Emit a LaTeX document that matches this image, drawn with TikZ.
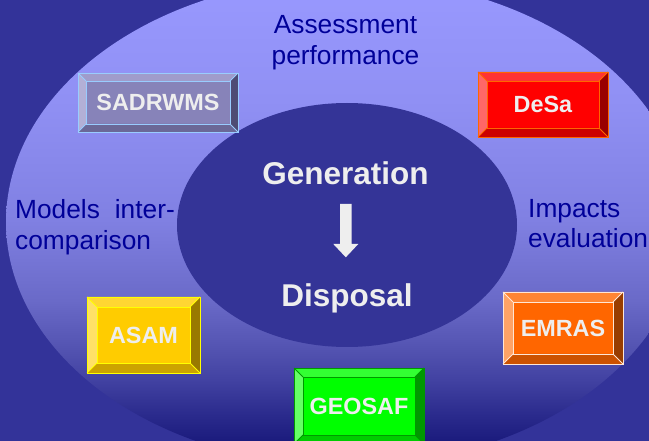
\documentclass[tikz,border=0pt]{standalone}
\usepackage{fontspec}
\setmainfont{Liberation Sans}
\definecolor{bg}{HTML}{333399}
\definecolor{inner}{HTML}{343497}
\definecolor{navytext}{HTML}{000099}
\definecolor{lbl}{HTML}{EEEEEE}
\definecolor{s0}{HTML}{141475}
\definecolor{s1}{HTML}{1A1A7C}
\definecolor{s2}{HTML}{2C2C8E}
\definecolor{s3}{HTML}{4141A1}
\definecolor{s4}{HTML}{5252B0}
\definecolor{s5}{HTML}{6A6AC8}
\definecolor{s6}{HTML}{8080E2}
\definecolor{s7}{HTML}{9090F4}
\definecolor{s8}{HTML}{9999FF}
\pgfdeclareverticalshading{ringshade}{100bp}{color(0bp)=(s0); color(25bp)=(s0); color(27.4bp)=(s1); color(30.5bp)=(s2); color(33.7bp)=(s3); color(36.8bp)=(s4); color(42bp)=(s5); color(50.2bp)=(s6); color(62.5bp)=(s7); color(75bp)=(s8); color(100bp)=(s8)}
% box colours: F face, T top, L left, R right, B bottom, K outline
\definecolor{sadF}{HTML}{8783B9}\definecolor{sadT}{HTML}{A09CCB}\definecolor{sadL}{HTML}{B3B0D6}
\definecolor{sadR}{HTML}{4E4C74}\definecolor{sadB}{HTML}{6B6897}\definecolor{sadK}{HTML}{99CCFF}
\definecolor{desF}{HTML}{FF0000}\definecolor{desT}{HTML}{FF3333}\definecolor{desL}{HTML}{FF6666}
\definecolor{desR}{HTML}{990000}\definecolor{desB}{HTML}{CC0000}\definecolor{desK}{HTML}{FF6600}
\definecolor{geoF}{HTML}{00FF00}\definecolor{geoT}{HTML}{33FF33}\definecolor{geoL}{HTML}{66FF66}
\definecolor{geoR}{HTML}{009900}\definecolor{geoB}{HTML}{00CC00}\definecolor{geoK}{HTML}{009900}
\definecolor{asaF}{HTML}{FFCC00}\definecolor{asaT}{HTML}{FFD633}\definecolor{asaL}{HTML}{FFE066}
\definecolor{asaR}{HTML}{997A00}\definecolor{asaB}{HTML}{CCA300}\definecolor{asaK}{HTML}{FFFF00}
\definecolor{emrF}{HTML}{FF6600}\definecolor{emrT}{HTML}{FF8533}\definecolor{emrL}{HTML}{FFA366}
\definecolor{emrR}{HTML}{993D00}\definecolor{emrB}{HTML}{CC5200}\definecolor{emrK}{HTML}{FFE6D5}
\tikzset{
  boxlabel/.style={inner sep=0pt, text=lbl, font=\fontsize{23.4pt}{28pt}\selectfont\bfseries},
  bigword/.style={inner sep=0pt, anchor=base, text=lbl, font=\fontsize{31.5pt}{36pt}\selectfont\bfseries},
  bluetext/.style={inner sep=0pt, text=navytext, font=\fontsize{26.3pt}{31pt}\selectfont},
  bevelline/.style={line width=0.8pt, line join=miter}
}
% #1 colour prefix, #2 x1, #3 y1, #4 x2, #5 y2, #6 bevel, #7 node name, #8 text
\newcommand\bevelbox[8]{%
  \fill[#1F] (#2+#6,#3+#6) rectangle (#4-#6,#5-#6);
  \fill[#1T] (#2,#3) -- (#4,#3) -- (#4-#6,#3+#6) -- (#2+#6,#3+#6) -- cycle;
  \fill[#1L] (#2,#3) -- (#2+#6,#3+#6) -- (#2+#6,#5-#6) -- (#2,#5) -- cycle;
  \fill[#1R] (#4,#3) -- (#4,#5) -- (#4-#6,#5-#6) -- (#4-#6,#3+#6) -- cycle;
  \fill[#1B] (#2,#5) -- (#4,#5) -- (#4-#6,#5-#6) -- (#2+#6,#5-#6) -- cycle;
  \draw[bevelline, #1K] (#2,#3) rectangle (#4,#5);
  \draw[bevelline, #1K] (#2+#6,#3+#6) rectangle (#4-#6,#5-#6);
  \draw[bevelline, #1K] (#2,#3) -- (#2+#6,#3+#6) (#4,#3) -- (#4-#6,#3+#6)
        (#2,#5) -- (#2+#6,#5-#6) (#4,#5) -- (#4-#6,#5-#6);
  \node[boxlabel] (#7) at ({(#2+#4)/2},{(#3+#5)/2}) {#8};
}
\begin{document}
\begin{tikzpicture}[x=1pt,y=-1pt]
\useasboundingbox (0,0) rectangle (649,441);
\clip (0,0) rectangle (649,441);
\fill[bg] (0,0) rectangle (649,441);
% outer ring and inner disc
\shade[shading=ringshade] (346,222) ellipse [x radius=340pt, y radius=244pt];
\fill[inner] (347,225) ellipse [x radius=170pt, y radius=122pt];
% boxes
\bevelbox{sad}{78}{73}{238}{132}{8}{sadrwms}{SADRWMS}
\bevelbox{des}{478}{72}{608}{137}{9}{desa}{DeSa}
\bevelbox{asa}{87}{297}{200}{373}{10}{asam}{ASAM}
\bevelbox{emr}{503}{292}{623}{364}{10}{emras}{EMRAS}
\bevelbox{geo}{294}{368}{424}{444}{9}{geosaf}{GEOSAF}
% centre words and arrow
\node[bigword] (gen) at (345.5,185) {Generation};
\node[bigword] (disp) at (347,306.5) {Disposal};
\coordinate (arrtop) at (345.8,204);
\coordinate (arrtip) at (345.8,257.3);
\fill[lbl] ([xshift=-5.8pt]arrtop) -- ([xshift=5.8pt]arrtop)
  -- ([xshift=5.8pt,yshift=13.3pt]arrtip) -- ([xshift=12.5pt,yshift=13.3pt]arrtip)
  -- (arrtip) -- ([xshift=-12.5pt,yshift=13.3pt]arrtip)
  -- ([xshift=-5.8pt,yshift=13.3pt]arrtip) -- cycle;
% blue captions
\node[bluetext, anchor=base] (assess) at (345.5,34) {Assessment};
\node[bluetext, anchor=base] (perf) at (345.5,65) {performance};
\node[bluetext, anchor=base west] (models) at (15,219) {Models};
\node[bluetext, anchor=base east] (inter) at (175,219) {inter-};
\node[bluetext, anchor=base west] (compar) at (15,250) {comparison};
\node[bluetext, anchor=base west] (impacts) at (528,218) {Impacts};
\node[bluetext, anchor=base west] (evalu) at (528,248) {evaluation};
\end{tikzpicture}
\end{document}
